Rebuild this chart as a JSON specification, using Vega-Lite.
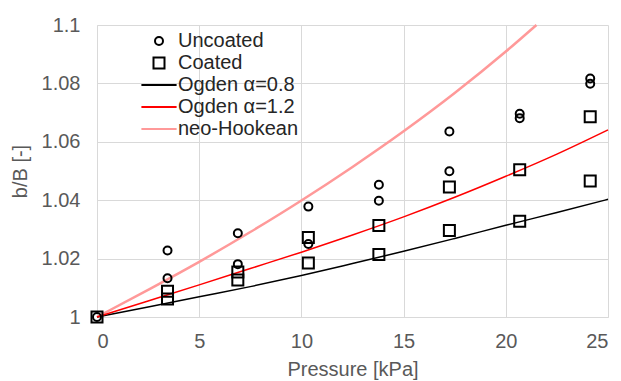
{
  "$schema": "https://vega.github.io/schema/vega-lite/v6.json",
  "width": 511,
  "height": 292,
  "autosize": "none",
  "padding": {"left": 97, "top": 25, "right": 13, "bottom": 64},
  "background": "white",
  "config": {
    "font": "Liberation Sans",
    "view": {"stroke": null},
    "axis": {
      "gridColor": "#D9D9D9",
      "gridWidth": 1,
      "domainColor": "#D9D9D9",
      "domainWidth": 1,
      "ticks": false,
      "labelColor": "#595959",
      "labelFontSize": 20,
      "titleColor": "#595959",
      "titleFontSize": 20,
      "titleFontWeight": "normal"
    }
  },
  "data": {
    "values": [
      {"p": 0, "v": 1.0, "series": "Uncoated"},
      {"p": 3.45, "v": 1.0228, "series": "Uncoated"},
      {"p": 3.45, "v": 1.0133, "series": "Uncoated"},
      {"p": 6.89, "v": 1.0287, "series": "Uncoated"},
      {"p": 6.89, "v": 1.0181, "series": "Uncoated"},
      {"p": 10.34, "v": 1.0378, "series": "Uncoated"},
      {"p": 10.34, "v": 1.025, "series": "Uncoated"},
      {"p": 13.79, "v": 1.0453, "series": "Uncoated"},
      {"p": 13.79, "v": 1.0398, "series": "Uncoated"},
      {"p": 17.24, "v": 1.0635, "series": "Uncoated"},
      {"p": 17.24, "v": 1.0499, "series": "Uncoated"},
      {"p": 20.68, "v": 1.0696, "series": "Uncoated"},
      {"p": 20.68, "v": 1.0681, "series": "Uncoated"},
      {"p": 24.13, "v": 1.0817, "series": "Uncoated"},
      {"p": 24.13, "v": 1.0799, "series": "Uncoated"},
      {"p": 0, "v": 1.0, "series": "Coated"},
      {"p": 3.45, "v": 1.0088, "series": "Coated"},
      {"p": 3.45, "v": 1.0062, "series": "Coated"},
      {"p": 6.89, "v": 1.0154, "series": "Coated"},
      {"p": 6.89, "v": 1.0127, "series": "Coated"},
      {"p": 10.34, "v": 1.0272, "series": "Coated"},
      {"p": 10.34, "v": 1.0185, "series": "Coated"},
      {"p": 13.79, "v": 1.0313, "series": "Coated"},
      {"p": 13.79, "v": 1.0214, "series": "Coated"},
      {"p": 17.24, "v": 1.0445, "series": "Coated"},
      {"p": 17.24, "v": 1.0296, "series": "Coated"},
      {"p": 20.68, "v": 1.0504, "series": "Coated"},
      {"p": 20.68, "v": 1.0328, "series": "Coated"},
      {"p": 24.13, "v": 1.0686, "series": "Coated"},
      {"p": 24.13, "v": 1.0466, "series": "Coated"},
      {"p": 0, "v": 1.0, "series": "Ogden α=0.8"},
      {"p": 2.5, "v": 1.0034, "series": "Ogden α=0.8"},
      {"p": 5, "v": 1.0069, "series": "Ogden α=0.8"},
      {"p": 7.5, "v": 1.0104, "series": "Ogden α=0.8"},
      {"p": 10, "v": 1.0142, "series": "Ogden α=0.8"},
      {"p": 12.5, "v": 1.0183, "series": "Ogden α=0.8"},
      {"p": 15, "v": 1.0225, "series": "Ogden α=0.8"},
      {"p": 17.5, "v": 1.0269, "series": "Ogden α=0.8"},
      {"p": 20, "v": 1.0314, "series": "Ogden α=0.8"},
      {"p": 22.5, "v": 1.0358, "series": "Ogden α=0.8"},
      {"p": 25, "v": 1.0403, "series": "Ogden α=0.8"},
      {"p": 0, "v": 1.0, "series": "Ogden α=1.2"},
      {"p": 2.5, "v": 1.0055, "series": "Ogden α=1.2"},
      {"p": 5, "v": 1.011, "series": "Ogden α=1.2"},
      {"p": 7.5, "v": 1.0166, "series": "Ogden α=1.2"},
      {"p": 10, "v": 1.0222, "series": "Ogden α=1.2"},
      {"p": 12.5, "v": 1.0281, "series": "Ogden α=1.2"},
      {"p": 15, "v": 1.0343, "series": "Ogden α=1.2"},
      {"p": 17.5, "v": 1.041, "series": "Ogden α=1.2"},
      {"p": 20, "v": 1.0482, "series": "Ogden α=1.2"},
      {"p": 22.5, "v": 1.0558, "series": "Ogden α=1.2"},
      {"p": 25, "v": 1.0641, "series": "Ogden α=1.2"},
      {"p": 0, "v": 1.0, "series": "neo-Hookean"},
      {"p": 2.5, "v": 1.0093, "series": "neo-Hookean"},
      {"p": 5, "v": 1.0189, "series": "neo-Hookean"},
      {"p": 7.5, "v": 1.0291, "series": "neo-Hookean"},
      {"p": 10, "v": 1.0399, "series": "neo-Hookean"},
      {"p": 12.5, "v": 1.0514, "series": "neo-Hookean"},
      {"p": 15, "v": 1.0636, "series": "neo-Hookean"},
      {"p": 17.5, "v": 1.0767, "series": "neo-Hookean"},
      {"p": 20, "v": 1.0909, "series": "neo-Hookean"},
      {"p": 21.5, "v": 1.1, "series": "neo-Hookean"}
    ]
  },
  "encoding": {
    "x": {
      "field": "p",
      "type": "quantitative",
      "scale": {"domain": [0, 25], "nice": false},
      "axis": {"values": [0, 5, 10, 15, 20, 25], "title": "Pressure [kPa]", "labelPadding": 14, "titlePadding": 8}
    },
    "y": {
      "field": "v",
      "type": "quantitative",
      "scale": {"domain": [1, 1.1], "nice": false, "zero": false},
      "axis": {"values": [1, 1.02, 1.04, 1.06, 1.08, 1.1], "format": "~g", "title": "b/B [-]", "labelPadding": 17, "titlePadding": 11}
    }
  },
  "layer": [
    {
      "transform": [{"filter": {"field": "series", "oneOf": ["neo-Hookean"]}}],
      "mark": {"type": "line", "interpolate": "monotone", "strokeWidth": 2.5},
      "encoding": {
        "stroke": {
          "field": "series", "type": "nominal",
          "scale": {"domain": ["Uncoated", "Coated", "Ogden α=0.8", "Ogden α=1.2", "neo-Hookean"], "range": ["#000000", "#000000", "#000000", "#FF0000", "#FF9999"]}
        }
      }
    },
    {
      "transform": [{"filter": {"field": "series", "oneOf": ["Ogden α=0.8", "Ogden α=1.2"]}}],
      "mark": {"type": "line", "interpolate": "monotone", "strokeWidth": 1.5},
      "encoding": {
        "stroke": {"field": "series", "type": "nominal"}
      }
    },
    {
      "transform": [{"filter": {"field": "series", "oneOf": ["Uncoated", "Coated"]}}],
      "mark": {"type": "point", "filled": false, "opacity": 1, "strokeWidth": 2},
      "encoding": {
        "shape": {
          "field": "series", "type": "nominal",
          "scale": {"domain": ["Uncoated", "Coated", "Ogden α=0.8", "Ogden α=1.2", "neo-Hookean"], "range": ["circle", "square", "M-3.2,0H3.2", "M-3.2,0H3.2", "M-3.2,0H3.2"]},
          "legend": {
            "orient": "none", "legendX": 52, "legendY": 6, "title": null,
            "labelFontSize": 20, "labelColor": "#262626", "labelOffset": 9, "rowPadding": 2, "padding": 0, "symbolOffset": 0,
            "symbolStrokeWidth": 2,
            "encode": {"symbols": {"update": {"strokeWidth": {"signal": "datum.value === 'neo-Hookean' ? 2.5 : ((datum.value === 'Uncoated' || datum.value === 'Coated') ? 2 : 1.5)"}}}}
          }
        },
        "size": {
          "field": "series", "type": "nominal",
          "scale": {"type": "ordinal", "domain": ["Uncoated", "Coated", "Ogden α=0.8", "Ogden α=1.2", "neo-Hookean"], "range": [64, 121, 121, 121, 121]}
        },
        "stroke": {"field": "series", "type": "nominal"}
      }
    }
  ]
}
